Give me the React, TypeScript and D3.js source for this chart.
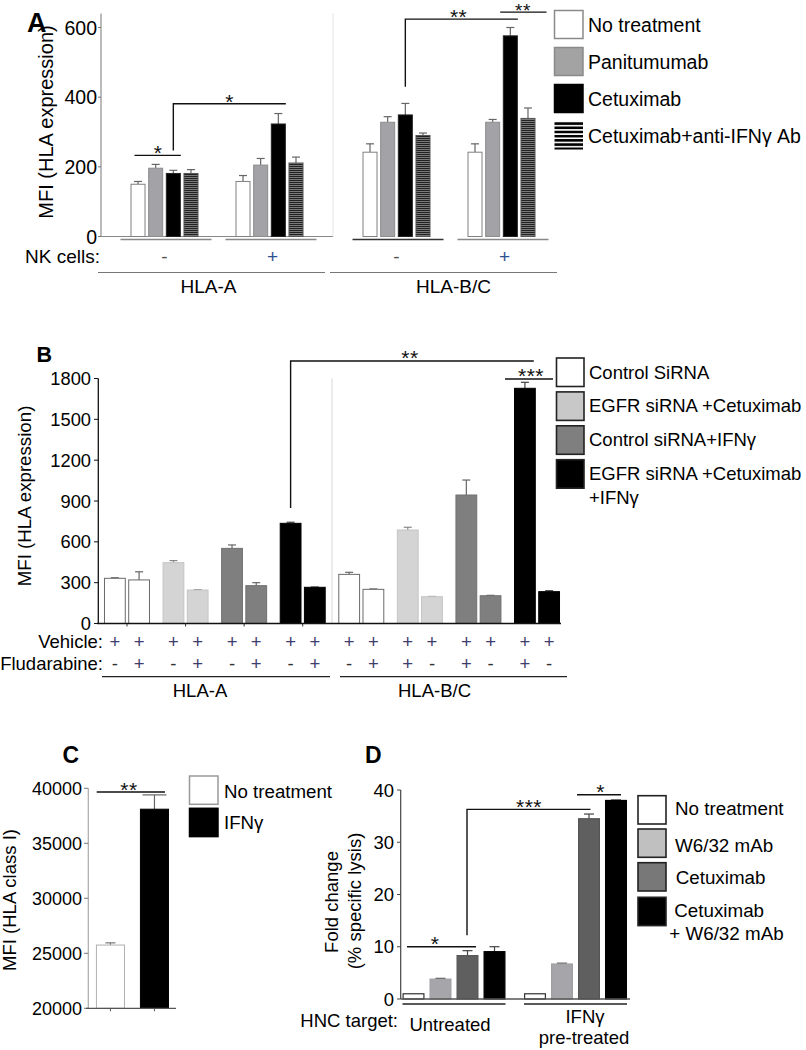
import React from "react";
import * as d3 from "d3";

const FONT = "'Liberation Sans', Arial, Helvetica, sans-serif";

// ---------------- Panel A data ----------------
const aBlocks = ["HLA-A", "HLA-B/C"];
const aNK = ["-", "+"];
const aSeries = ["No treatment", "Panitumumab", "Cetuximab", "Cetuximab+anti-IFNγ Ab"];
// order of groups: HLA-A NK-, HLA-A NK+, HLA-B/C NK-, HLA-B/C NK+
const aNoTreatment = [150, 158, 242, 242];
const aPanitumumab = [196, 205, 328, 328];
const aCetuximab = [181, 323, 349, 576];
const aCetuxAntiIFN = [181, 211, 290, 339];
const aNoTreatmentErr = [8, 17, 24, 24];
const aPanitumumabErr = [11, 19, 16, 8];
const aCetuximabErr = [9, 30, 33, 24];
const aCetuxAntiIFNErr = [11, 17, 7, 30];
const aTicks = [0, 200, 400, 600];

// ---------------- Panel B data ----------------
const bBlocks = ["HLA-A", "HLA-B/C"];
const bSeries = ["Control SiRNA", "EGFR siRNA +Cetuximab", "Control siRNA+IFNγ", "EGFR siRNA +Cetuximab +IFNγ"];
const bHlaAFirst = [332, 447, 552, 736];
const bHlaAFirstErr = [4, 15, 25, 8];
const bHlaASecond = [320, 246, 278, 266];
const bHlaASecondErr = [60, 3, 22, 2];
const bHlaBCFirst = [361, 687, 944, 1728];
const bHlaBCFirstErr = [15, 20, 110, 44];
const bHlaBCSecond = [251, 197, 204, 234];
const bHlaBCSecondErr = [3, 2, 3, 7];
const bVehicle = [["+", "+"], ["+", "+"], ["+", "+"], ["+", "+"], ["+", "+"], ["+", "+"], ["+", "+"], ["+", "+"]];
const bFludarabine = [["-", "+"], ["-", "+"], ["-", "+"], ["-", "+"], ["-", "+"], ["+", "-"], ["+", "-"], ["+", "-"]];
const bTicks = [0, 300, 600, 900, 1200, 1500, 1800];

// ---------------- Panel C data ----------------
const cCategories = ["No treatment", "IFNγ"];
const cValues = [25750, 38100];
const cErrors = [200, 1300];
const cTicks = [20000, 25000, 30000, 35000, 40000];

// ---------------- Panel D data ----------------
const dGroups = ["Untreated", "IFNγ pre-treated"];
const dSeries = ["No treatment", "W6/32 mAb", "Cetuximab", "Cetuximab + W6/32 mAb"];
const dNoTreatment = [1.0, 1.0];
const dW632 = [3.8, 6.7];
const dCetuximab = [8.3, 34.5];
const dCetuxW632 = [9.06, 38.0];
const dNoTreatmentErr = [0, 0];
const dW632Err = [0.15, 0.15];
const dCetuximabErr = [0.95, 0.9];
const dCetuxW632Err = [0.95, 0.1];
const dTicks = [0, 10, 20, 30, 40];

function ErrBar({ x, y0, y1, color = "#555", half = 4 }: any) {
  return (
    <g stroke={color} strokeWidth={1.2}>
      <line x1={x} x2={x} y1={y0} y2={y1} />
      <line x1={x - half} x2={x + half} y1={y1} y2={y1} />
    </g>
  );
}

function Stars({ x, y, s, size = 21 }: any) {
  return (
    <text x={x} y={y} textAnchor="middle" fontSize={size} fontFamily={FONT} letterSpacing={0.5} fill="#111">
      {s}
    </text>
  );
}

function PanelA() {
  const yA = d3.scaleLinear().domain([0, 600]).range([236.5, 27.5]);
  const blockX = d3.scaleBand<string>().domain(aBlocks).range([101, 565]);
  const nkX = d3.scaleBand<string>().domain(aNK).range([11, 221]);
  const barX = d3.scaleBand<string>().domain(aSeries).range([-34, 34]).paddingInner(0.15);
  const bw = barX.bandwidth();
  const gc = (b: string, nk: string) => (blockX(b) as number) + (nkX(nk) as number) + nkX.bandwidth() / 2;
  const bl = (b: string, nk: string, s: string) => gc(b, nk) + (barX(s) as number);
  const bc = (b: string, nk: string, s: string) => bl(b, nk, s) + bw / 2;
  const vals = [aNoTreatment, aPanitumumab, aCetuximab, aCetuxAntiIFN];
  const errs = [aNoTreatmentErr, aPanitumumabErr, aCetuximabErr, aCetuxAntiIFNErr];
  const fills = ["#ffffff", "#a3a3a7", "#000000", "url(#stripesA)"];
  const strokes = ["#808080", "#8c8c8c", "#222", "#555"];
  const legendFills = ["#ffffff", "#a3a3a3", "#000000", "url(#stripesLegA)"];
  const legendStrokes = ["#8a8a8a", "#8a8a8a", "#000", "none"];
  const axisTop = yA(640);
  const sepX = blockX("HLA-B/C") as number;
  return (
    <g fontFamily={FONT}>
      <text x={27} y={32} fontSize={27} fontWeight="bold">A</text>
      <text transform={`translate(53,122) rotate(-90)`} textAnchor="middle" fontSize={20}>MFI (HLA expression)</text>
      <line x1={101} x2={101} y1={axisTop} y2={yA(0)} stroke="#777" />
      <line x1={101} x2={sepX} y1={yA(0)} y2={yA(0)} stroke="#888" />
      <line x1={sepX} x2={sepX} y1={axisTop} y2={yA(0)} stroke="#c8c8c8" strokeDasharray="1,1" />
      {aTicks.map((t) => (
        <g key={t}>
          <line x1={98} x2={101} y1={yA(t)} y2={yA(t)} stroke="#777" />
          <text x={97} y={yA(t) + 7} textAnchor="end" fontSize={19.5}>{t}</text>
        </g>
      ))}
      {aBlocks.map((b, bi) =>
        aNK.map((nk, ni) => {
          const gi = bi * 2 + ni;
          return (
            <g key={b + nk}>
              {aSeries.map((s, si) => {
                const v = vals[si][gi];
                const e = errs[si][gi];
                return (
                  <g key={s}>
                    <ErrBar x={bc(b, nk, s)} y0={yA(v)} y1={yA(v + e)} color="#666" />
                    <rect x={bl(b, nk, s) + 0.5} y={yA(v)} width={bw - 1} height={yA(0) - yA(v)} fill={fills[si]} stroke={strokes[si]} strokeWidth={1} />
                  </g>
                );
              })}
              <line x1={gc(b, nk) - 44} x2={gc(b, nk) + 47} y1={239.5} y2={239.5} stroke={bi === 1 && ni === 0 ? "#333" : "#888"} strokeWidth={1.3} />
              <text x={gc(b, nk) + (nk === "+" ? 3 : 0)} y={263} textAnchor="middle" fontSize={19} fill={nk === "+" ? "#2f4f8f" : "#555"}>{nk}</text>
            </g>
          );
        })
      )}
      <text x={100} y={263} textAnchor="end" fontSize={19}>NK cells:</text>
      {aBlocks.map((b, bi) => {
        const x0 = (blockX(b) as number) - 3;
        const x1 = (blockX(b) as number) + blockX.bandwidth() - 8;
        return (
          <g key={b}>
            <line x1={x0} x2={x1} y1={272.5} y2={272.5} stroke="#777" strokeWidth={1.2} />
            <text x={(x0 + x1) / 2 + [-3, 10][bi]} y={293} textAnchor="middle" fontSize={19}>{b}</text>
          </g>
        );
      })}
      {/* significance */}
      <g stroke="#111" strokeWidth={1.4} fill="none">
        <line x1={bc("HLA-A", "-", aSeries[0]) - 3.5} x2={bl("HLA-A", "-", aSeries[2]) + bw} y1={yA(233)} y2={yA(233)} />
        <polyline points={`${bc("HLA-A", "-", aSeries[2])},${yA(247)} ${bc("HLA-A", "-", aSeries[2])},${yA(381)} ${bl("HLA-A", "+", aSeries[2]) + bw},${yA(381)}`} />
        <polyline points={`${bc("HLA-B/C", "-", aSeries[2])},${yA(430)} ${bc("HLA-B/C", "-", aSeries[2])},${yA(624)} ${bl("HLA-B/C", "+", aSeries[2]) + bw},${yA(624)}`} />
        <line x1={bl("HLA-B/C", "+", aSeries[1]) + bw} x2={bl("HLA-B/C", "+", aSeries[3]) + bw + 11} y1={yA(644)} y2={yA(644)} />
      </g>
      <Stars x={158} y={yA(233) + 5} s="*" />
      <Stars x={(bc("HLA-A", "-", aSeries[2]) + bl("HLA-A", "+", aSeries[2]) + bw) / 2} y={yA(381) + 5} s="*" />
      <Stars x={(bc("HLA-B/C", "-", aSeries[2]) + bl("HLA-B/C", "+", aSeries[2]) + bw) / 2 - 3} y={yA(624) + 5} s="**" />
      <Stars x={523} y={yA(644) + 5} s="**" size={19} />
      {/* legend */}
      {aSeries.map((s, i) => {
        const y = 10 + i * 37;
        return (
          <g key={s}>
            <rect x={554.5} y={y + 0.5} width={28.5} height={28} fill={legendFills[i]} stroke={legendStrokes[i]} strokeWidth={1.5} />
            <text x={588} y={y + 14 + 7.5} fontSize={19.5}>{s}</text>
          </g>
        );
      })}
    </g>
  );
}

function PanelB() {
  const yB = d3.scaleLinear().domain([0, 1800]).range([623.5, 378.5]);
  const pairKeys: string[] = [];
  bBlocks.forEach((b) => bSeries.forEach((s) => pairKeys.push(b + "|" + s)));
  const pairX = d3.scaleBand<string>().domain(pairKeys).range([97.7, 566.3]);
  const innerX = d3.scaleBand<string>().domain(["first", "second"]).range([-23, 23]).paddingInner(0.1);
  const bw = innerX.bandwidth();
  const pc = (k: string) => (pairX(k) as number) + pairX.bandwidth() / 2;
  const bl = (k: string, w: string) => pc(k) + (innerX(w) as number);
  const bc = (k: string, w: string) => bl(k, w) + bw / 2;
  const first = [bHlaAFirst, bHlaBCFirst];
  const firstErr = [bHlaAFirstErr, bHlaBCFirstErr];
  const second = [bHlaASecond, bHlaBCSecond];
  const secondErr = [bHlaASecondErr, bHlaBCSecondErr];
  const fills = ["#ffffff", "#d4d4d4", "#7f7f7f", "#000000"];
  const strokes = ["#6a6a6a", "#c4c4c4", "#707070", "#000"];
  const errColors = ["#666", "#888", "#666", "#444"];
  const legFills = ["#ffffff", "#c8c8c8", "#7f7f7f", "#000000"];
  const sepX = pairX(pairKeys[4]) as number;
  const kA4 = "HLA-A|" + bSeries[3];
  const kB4 = "HLA-B/C|" + bSeries[3];
  return (
    <g fontFamily={FONT}>
      <text x={36.5} y={361.7} fontSize={21.5} fontWeight="bold">B</text>
      <text transform={`translate(31,496) rotate(-90)`} textAnchor="middle" fontSize={18.7}>MFI (HLA expression)</text>
      <line x1={sepX} x2={sepX} y1={yB(1800)} y2={yB(0)} stroke="#e4e4e4" strokeWidth={1.5} />
      <line x1={98.3} x2={98.3} y1={yB(1800)} y2={yB(0)} stroke="#111" strokeWidth={1.3} />
      {bTicks.map((t) => (
        <g key={t}>
          <line x1={94} x2={98.3} y1={yB(t)} y2={yB(t)} stroke="#111" />
          <text x={91} y={yB(t) + 6.5} textAnchor="end" fontSize={18.3}>{t}</text>
        </g>
      ))}
      {pairKeys.map((k, pi) => {
        const bi = pi < 4 ? 0 : 1;
        const si = pi % 4;
        const v1 = first[bi][si], e1 = firstErr[bi][si];
        const v2 = second[bi][si], e2 = secondErr[bi][si];
        return (
          <g key={k}>
            <ErrBar x={bc(k, "first")} y0={yB(v1)} y1={yB(v1 + e1)} color={errColors[si]} half={4} />
            <ErrBar x={bc(k, "second")} y0={yB(v2)} y1={yB(v2 + e2)} color={errColors[si]} half={4} />
            <rect x={bl(k, "first") + 0.5} y={yB(v1)} width={bw - 1} height={yB(0) - yB(v1)} fill={fills[si]} stroke={strokes[si]} />
            <rect x={bl(k, "second") + 0.5} y={yB(v2)} width={bw - 1} height={yB(0) - yB(v2)} fill={fills[si]} stroke={strokes[si]} />
            {pi < 4 && <line x1={pc(k)} x2={pc(k)} y1={yB(0)} y2={yB(0) + 3} stroke="#333" />}
            {["first", "second"].map((w, wi) => (
              <g key={w}>
                <text x={bc(k, w)} y={648} textAnchor="middle" fontSize={18.5} fill="#3d3d6e">{bVehicle[pi][wi]}</text>
                <text x={bc(k, w)} y={670} textAnchor="middle" fontSize={18.5} fill={bFludarabine[pi][wi] === "+" ? "#3d3d6e" : "#333"}>{bFludarabine[pi][wi]}</text>
              </g>
            ))}
          </g>
        );
      })}
      <line x1={97} x2={561} y1={yB(0)} y2={yB(0)} stroke="#111" strokeWidth={1.3} />
      <text x={103} y={648} textAnchor="end" fontSize={18.5}>Vehicle:</text>
      <text x={103} y={670} textAnchor="end" fontSize={18.5}>Fludarabine:</text>
      {bBlocks.map((b, bi) => {
        const x0 = [102, 340][bi];
        const x1 = [330, 567][bi];
        return (
          <g key={b}>
            <line x1={x0} x2={x1} y1={676.7} y2={676.7} stroke="#222" strokeWidth={1.3} />
            <text x={(x0 + x1) / 2 + [-16, -19][bi]} y={697} textAnchor="middle" fontSize={18.5}>{b}</text>
          </g>
        );
      })}
      {/* significance */}
      <g stroke="#111" strokeWidth={1.4} fill="none">
        <polyline points={`${bc(kA4, "first")},${yB(849)} ${bc(kA4, "first")},${yB(1929)} ${bl(kB4, "first") + bw - 2},${yB(1929)}`} />
        <line x1={bl(kB4, "first") - 9} x2={bl(kB4, "second") + bw - 7} y1={yB(1796)} y2={yB(1796)} />
      </g>
      <Stars x={410} y={yB(1929) + 4} s="**" />
      <Stars x={531} y={yB(1796) + 4} s="***" />
      {/* legend */}
      {bSeries.map((s, i) => {
        const y = 358 + i * 33.9;
        const lines = i === 3 ? ["EGFR siRNA +Cetuximab", "+IFNγ"] : [s];
        return (
          <g key={s}>
            <rect x={556.5} y={y} width={27.5} height={28.5} fill={legFills[i]} stroke="#222" strokeWidth={1.6} />
            {lines.map((l, li) => (
              <text key={li} x={589} y={y + 14 + 6.5 + li * 24} fontSize={18.5}>{l}</text>
            ))}
          </g>
        );
      })}
    </g>
  );
}

function PanelC() {
  const yC = d3.scaleLinear().domain([20000, 40000]).range([1008.3, 788.3]);
  const xC = d3.scaleBand<string>().domain(cCategories).range([88, 176.9]).paddingInner(0.34).paddingOuter(0.18);
  const bw = xC.bandwidth();
  const fills = ["#ffffff", "#000000"];
  const strokes = ["#b0b0b0", "#000"];
  const legStrokes = ["#999", "#000"];
  return (
    <g fontFamily={FONT}>
      <text x={62.5} y={763.3} fontSize={23} fontWeight="bold">C</text>
      <text transform={`translate(16,900) rotate(-90)`} textAnchor="middle" fontSize={18.5}>MFI (HLA class I)</text>
      <line x1={88.3} x2={88.3} y1={yC(40000)} y2={yC(20000)} stroke="#aaa" strokeWidth={1.2} />
      {cTicks.map((t) => (
        <g key={t}>
          <line x1={84} x2={88.3} y1={yC(t)} y2={yC(t)} stroke="#777" />
          <text x={82} y={yC(t) + 6.5} textAnchor="end" fontSize={18}>{t}</text>
        </g>
      ))}
      {cCategories.map((c, i) => {
        const x = xC(c) as number;
        return (
          <g key={c}>
            <ErrBar x={x + bw / 2} y0={yC(cValues[i])} y1={yC(cValues[i] + cErrors[i])} color={i === 0 ? "#777" : "#666"} half={i === 0 ? 5 : 12} />
            <rect x={x + 0.5} y={yC(cValues[i])} width={bw - 1} height={yC(20000) - yC(cValues[i])} fill={fills[i]} stroke={strokes[i]} />
            <line x1={x + bw / 2} x2={x + bw / 2} y1={yC(20000)} y2={yC(20000) + 3} stroke="#555" />
          </g>
        );
      })}
      <line x1={86} x2={176} y1={yC(20000)} y2={yC(20000)} stroke="#555" strokeWidth={1.3} />
      <line x1={96.7} x2={165} y1={792} y2={792} stroke="#111" strokeWidth={1.4} />
      <Stars x={129} y={797} s="**" />
      {cCategories.map((c, i) => {
        const y = 776 + i * 32.3;
        return (
          <g key={c}>
            <rect x={189.5} y={y} width={28.5} height={28.3} fill={fills[i]} stroke={legStrokes[i]} strokeWidth={1.5} />
            <text x={224} y={[798, 829][i]} fontSize={18.7}>{c}</text>
          </g>
        );
      })}
    </g>
  );
}

function PanelD() {
  const yD = d3.scaleLinear().domain([0, 40]).range([999, 790]);
  const gX = d3.scaleBand<string>().domain(dGroups).range([393.25, 636.25]);
  const sX = d3.scaleBand<string>().domain(dSeries).range([-51.5, 51.5]).paddingInner(0.185);
  const bw = sX.bandwidth();
  const gc = (g: string) => (gX(g) as number) + gX.bandwidth() / 2;
  const bl = (g: string, s: string) => gc(g) + (sX(s) as number);
  const bc = (g: string, s: string) => bl(g, s) + bw / 2;
  const vals = [dNoTreatment, dW632, dCetuximab, dCetuxW632];
  const errs = [dNoTreatmentErr, dW632Err, dCetuximabErr, dCetuxW632Err];
  const fills = ["#ffffff", "#a6a6aa", "#5f5f5f", "#000000"];
  const strokes = ["#333", "#a0a0a4", "#555", "#000"];
  const legFills = ["#ffffff", "#c0c0c0", "#787878", "#000000"];
  const legY = [795.7, 829, 862.7, 897.3];
  const legBase = [815, 851.5, 883.5, 916.5];
  const legX = [675, 675, 675.7, 674.3];
  return (
    <g fontFamily={FONT}>
      <text x={365} y={763.3} fontSize={23} fontWeight="bold">D</text>
      <text transform={`translate(338,902) rotate(-90)`} textAnchor="middle" fontSize={18.5}>Fold change</text>
      <text transform={`translate(361,901) rotate(-90)`} textAnchor="middle" fontSize={18.5}>(% specific lysis)</text>
      <line x1={400.7} x2={400.7} y1={yD(40)} y2={yD(0)} stroke="#444" strokeWidth={1.2} />
      {dTicks.map((t) => (
        <g key={t}>
          <line x1={397} x2={400.7} y1={yD(t)} y2={yD(t)} stroke="#444" />
          <text x={394} y={yD(t) + 6.5} textAnchor="end" fontSize={18.5}>{t}</text>
        </g>
      ))}
      {dGroups.map((g, gi) => (
        <g key={g}>
          {dSeries.map((s, si) => {
            const v = vals[si][gi];
            const e = errs[si][gi];
            return (
              <g key={s}>
                {e > 0 && <ErrBar x={bc(g, s)} y0={yD(v)} y1={yD(v + e)} color="#444" half={5} />}
                <rect x={bl(g, s) + 0.6} y={yD(v)} width={bw - 1.2} height={yD(0) - yD(v)} fill={fills[si]} stroke={strokes[si]} strokeWidth={1.2} />
              </g>
            );
          })}
          <line x1={bl(g, dSeries[0])} x2={bl(g, dSeries[3]) + bw} y1={1004} y2={1004} stroke="#222" strokeWidth={1.5} />
        </g>
      ))}
      <line x1={400.7} x2={630} y1={yD(0)} y2={yD(0)} stroke="#555" strokeWidth={1.3} />
      <text x={398} y={1027} textAnchor="end" fontSize={18.5}>HNC target:</text>
      <text x={450} y={1031} textAnchor="middle" fontSize={18.5}>Untreated</text>
      <text x={585} y={1023} textAnchor="middle" fontSize={18.5}>IFNγ</text>
      <text x={584} y={1044} textAnchor="middle" fontSize={18.5}>pre-treated</text>
      {/* significance */}
      <g stroke="#111" strokeWidth={1.4} fill="none">
        <line x1={407} x2={bc(dGroups[0], dSeries[2]) + 8.5} y1={yD(10)} y2={yD(10)} />
        <polyline points={`${bc(dGroups[0], dSeries[2]) - 0.5},${yD(12.2)} ${bc(dGroups[0], dSeries[2]) - 0.5},${yD(36.3)} ${bc(dGroups[1], dSeries[2]) + 1.5},${yD(36.3)}`} />
        <line x1={bl(dGroups[1], dSeries[2]) - 1} x2={bl(dGroups[1], dSeries[3]) + bw - 6} y1={yD(39.1)} y2={yD(39.1)} />
      </g>
      <Stars x={435} y={yD(10) + 4.5} s="*" />
      <Stars x={529} y={yD(36.3) + 4.5} s="***" />
      <Stars x={600.7} y={yD(39.1) + 4.5} s="*" />
      {dSeries.map((s, i) => (
        <g key={s}>
          <rect x={638} y={legY[i]} width={28} height={28.3} fill={legFills[i]} stroke="#222" strokeWidth={1.6} />
          <text x={legX[i]} y={legBase[i]} fontSize={18.8}>{i === 3 ? "Cetuximab" : s}</text>
        </g>
      ))}
      <text x={669.3} y={939.5} fontSize={18.8}>+ W6/32 mAb</text>
    </g>
  );
}

export default function App() {
  return (
    <svg width={806} height={1050} viewBox="0 0 806 1050" style={{ position: "absolute", left: 0, top: 0, background: "#fff" }}>
      <defs>
        <pattern id="stripesA" width={4} height={2} patternUnits="userSpaceOnUse">
          <rect width={4} height={2} fill="#7a7a7a" />
          <rect width={4} height={1} fill="#222" />
        </pattern>
        <pattern id="stripesLegA" width={4} height={4.2} patternUnits="userSpaceOnUse" y={0.5}>
          <rect width={4} height={4.2} fill="#fff" />
          <rect width={4} height={2.6} fill="#000" />
        </pattern>
      </defs>
      <rect width={806} height={1050} fill="#fff" />
      <PanelA />
      <PanelB />
      <PanelC />
      <PanelD />
    </svg>
  );
}
